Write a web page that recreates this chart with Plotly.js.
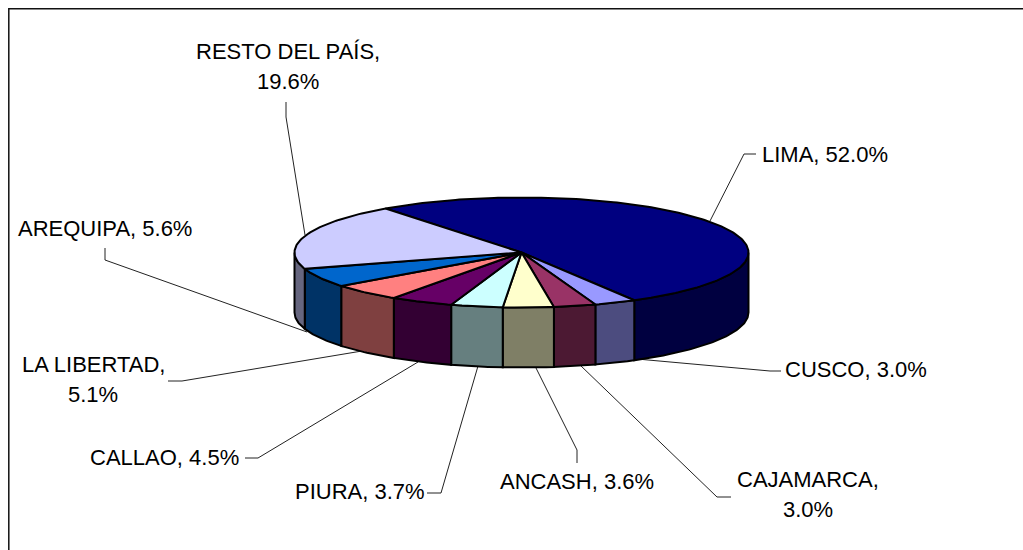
<!DOCTYPE html>
<html>
<head>
<meta charset="utf-8">
<script src="https://cdn.plot.ly/plotly-3.0.1.min.js"></script>
<style>html,body{margin:0;padding:0;background:#fff;overflow:hidden}#chart{width:1023px;height:550px}</style>
</head>
<body>
<div id="chart"></div>
<script>
// Data, in drawing order (clockwise from the Lima slice)
const categories = ["LIMA","CUSCO","CAJAMARCA","ANCASH","PIURA","CALLAO","LA LIBERTAD","AREQUIPA","RESTO DEL PAÍS"];
const shares = [52.0,3.0,3.0,3.6,3.7,4.5,5.1,5.6,19.6];
const topColors = ["#000080","#9999FF","#993366","#FFFFCC","#CCFFFF","#660066","#FF8080","#0066CC","#CCCCFF"];

// Pie geometry, in pixels of the page
const pie = {cx:521.5, cy:252.5, rx:227, ry:55, depth:60, start:-36.8};

// Label placement (centre of text, per category) and whether the value wraps to a second line
const labelX = [825,855.5,808,577,360,164,93,105,287.5];
const labelY = [154,369,479.5,481.5,491.5,457.5,364,228,51];
const wrapped = [false,false,true,false,false,false,true,false,true];
const lineGap = 30;

// Leader lines, per category
const leaderX = [[756,744,710],[781,770,637],[731,717,580],[577,577,534],[427,441,478],[245,258,418],[168,182,362],[105,105,307],[286,286,305]];
const leaderY = [[154,154,221],[371,371,359],[497,497,365],[463,450,364],[493,493,366],[458,458,362],[381,381,351],[248,260,332],[102,117,235]];

function rimPoint(deg, dy){
  const a = deg*Math.PI/180;
  return [pie.cx + pie.rx*Math.sin(a), pie.cy - pie.ry*Math.cos(a) + dy];
}
function arc(a0, a1, dy){
  const n = Math.max(2, Math.ceil(Math.abs(a1-a0)));
  const pts = [];
  for(let i=0;i<=n;i++) pts.push(rimPoint(a0+(a1-a0)*i/n, dy));
  return pts;
}
function halve(hex){
  const n = parseInt(hex.slice(1),16);
  return `rgb(${(n>>16&255)>>1},${(n>>8&255)>>1},${(n&255)>>1})`;
}
const total = shares.reduce((a,b)=>a+b,0);
let angle = pie.start;
const spans = shares.map(v=>{const s=[angle,angle+v/total*360]; angle=s[1]; return s;});

const traces = [];
function poly(pts,fill){
  traces.push({type:"scatter",mode:"lines",x:pts.map(p=>p[0]),y:pts.map(p=>p[1]),fill:"toself",fillcolor:fill,
    line:{color:"#000",width:2},hoverinfo:"skip",showlegend:false});
}
// leaders first, the pie sits on top of them
categories.forEach((c,i)=>{
  traces.push({type:"scatter",mode:"lines",x:leaderX[i],y:leaderY[i],line:{color:"#222",width:1},hoverinfo:"skip",showlegend:false});
});
// side walls: only the part of each slice that faces the viewer (90..270 degrees on the rim)
spans.forEach((s,i)=>{
  const lo=Math.max(s[0],90), hi=Math.min(s[1],270);
  if(hi>lo){
    const pts = arc(lo,hi,0).concat(arc(hi,lo,pie.depth));
    pts.push(pts[0]);
    poly(pts,halve(topColors[i]));
  }
});
// top faces
spans.forEach((s,i)=>{
  const pts = [[pie.cx,pie.cy]].concat(arc(s[0],s[1],0));
  pts.push(pts[0]);
  poly(pts,topColors[i]);
});

const annotations = [];
function addText(text,x,y){
  annotations.push({text:text,x:x,y:y,xref:"x",yref:"y",xanchor:"center",yanchor:"middle",showarrow:false,
    font:{family:"'Liberation Sans',Arial,sans-serif",size:22,color:"#000"}});
}
categories.forEach((c,i)=>{
  const pct = shares[i].toFixed(1)+"%";
  if(wrapped[i]){
    addText(c+",",labelX[i],labelY[i]);
    addText(pct,labelX[i],labelY[i]+lineGap);
  } else {
    addText(c+", "+pct,labelX[i],labelY[i]);
  }
});

const layout = {
  width:1023,height:550,margin:{l:0,r:0,t:0,b:0},paper_bgcolor:"#fff",plot_bgcolor:"#fff",showlegend:false,
  xaxis:{range:[0,1023],visible:false,fixedrange:true},
  yaxis:{range:[550,0],visible:false,fixedrange:true},
  shapes:[{type:"rect",xref:"x",yref:"y",x0:8.8,x1:1040,y0:8.8,y1:570,line:{color:"#111",width:1.5},layer:"below"}],
  annotations:annotations
};
Plotly.newPlot("chart",traces,layout,{displayModeBar:false,staticPlot:true});
</script>
</body>
</html>
